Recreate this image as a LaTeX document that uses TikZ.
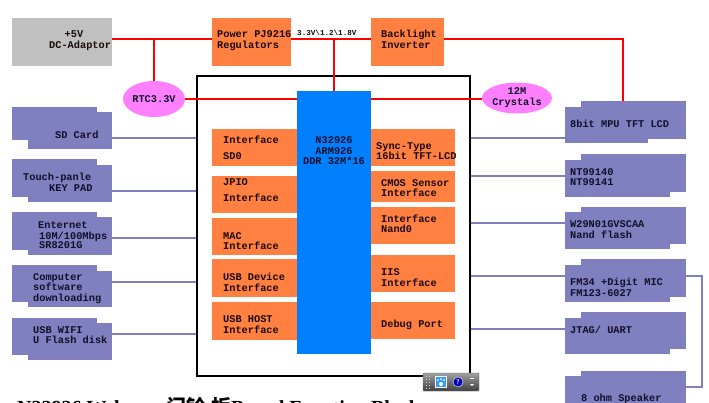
\documentclass[tikz,border=0pt]{standalone}
\usepackage{fontspec}
\setmonofont{Liberation Mono}
\newfontfamily\cjk{Noto Sans CJK SC}
\newfontfamily\capfont{Liberation Serif}
\usetikzlibrary{shapes.geometric,fit}
\definecolor{orng}{HTML}{FF8040}
\definecolor{gry}{HTML}{C0C0C0}
\definecolor{purp}{HTML}{8080C0}
\definecolor{pinkc}{HTML}{FF80FF}
\definecolor{cpublue}{HTML}{0080FF}
\definecolor{txtdark}{HTML}{1A0A0A}
\definecolor{txtnavy}{HTML}{10102A}
\tikzset{
  obox/.style={fill=orng, draw=none, inner sep=0pt},
  gbox/.style={fill=gry, draw=none, inner sep=0pt},
  pbox/.style={fill=purp, draw=none, inner sep=0pt},
  cpubox/.style={fill=cpublue, draw=none, inner sep=0pt},
  ell/.style={ellipse, fill=pinkc, draw=none, inner sep=0pt, align=center,
    font=\ttfamily\bfseries\fontsize{10.3}{11}\selectfont, text=txtnavy},
  t/.style={anchor=base west, inner sep=0pt, font=\ttfamily\bfseries\fontsize{10.3}{11}\selectfont, text=txtdark},
  tc/.style={t, anchor=base},
  pt/.style={t, text=txtnavy},
  redw/.style={draw=red, line width=2pt},
  pw/.style={draw=purp, line width=1.6pt},
}
\begin{document}
\begin{tikzpicture}[x=1pt,y=-1pt]
\useasboundingbox (0,0) rectangle (709,402);
\clip (0,0) rectangle (709,402);
\fill[white] (0,0) rectangle (709,402);

% top row
\node[gbox, fit={(12,18)(112,66)}] (dc) {};
\node[obox, fit={(212,18)(291,66)}] (pwr) {};
\node[obox, fit={(371,18)(444,66)}] (bl) {};
\node[tc] (tdc1) at (74,37.5) {+5V};
\node[t] (tdc2) at (49,48.5) {DC-Adaptor};
\node[t] (tpw1) at (217,37.5) {Power PJ9216};
\node[t] (tpw2) at (217,48.5) {Regulators};
\node[t] (tbl1) at (381,37.5) {Backlight};
\node[t] (tbl2) at (381,48.5) {Inverter};
\node[t, font=\ttfamily\bfseries\fontsize{7.6}{8}\selectfont] (tvolt) at (297,35.5) {3.3V\textbackslash1.2\textbackslash1.8V};

% main frame and CPU
\node[draw=black, line width=2.5pt, inner sep=0pt, fit={(197,76)(470,376)}] (main) {};
\node[cpubox, fit={(297,91)(371,354)}] (cpu) {};
\node[tc, text=txtnavy] (tc1) at (334,143.5) {N32926};
\node[tc, text=txtnavy] (tc2) at (334,154.5) {ARM926};
\node[tc, text=txtnavy] (tc3) at (334,164.5) {DDR 32M*16};

% ellipses
\node[ell, minimum width=62pt, minimum height=36pt] (rtc) at (154,99) {RTC3.3V};
\node[ell, minimum width=62pt, minimum height=31pt] (xtal) at (517,98) {12M\\Crystals};

% left interface blocks
\node[obox, fit={(212,129)(297,166)}] (sd0) {};
\node[obox, fit={(212,176)(297,213)}] (jpio) {};
\node[obox, fit={(212,218)(297,255)}] (mac) {};
\node[obox, fit={(212,259)(297,297)}] (usbd) {};
\node[obox, fit={(212,302)(297,340)}] (usbh) {};
\node[t] (l1a) at (223,143.5) {Interface};
\node[t] (l1b) at (223,159.5) {SD0};
\node[t] (l2a) at (223,185.5) {JPIO};
\node[t] (l2b) at (223,201.5) {Interface};
\node[t] (l3a) at (223,239.5) {MAC};
\node[t] (l3b) at (223,249.5) {Interface};
\node[t] (l4a) at (223,280.5) {USB Device};
\node[t] (l4b) at (223,291.5) {Interface};
\node[t] (l5a) at (223,322.5) {USB HOST};
\node[t] (l5b) at (223,333.5) {Interface};

% right interface blocks
\node[obox, fit={(371,129)(455,166)}] (sync) {};
\node[obox, fit={(371,171)(455,202)}] (cmos) {};
\node[obox, fit={(371,207)(455,244)}] (nand) {};
\node[obox, fit={(371,255)(455,292)}] (iis) {};
\node[obox, fit={(371,302)(455,339)}] (dbg) {};
\node[t] (r1a) at (376,149.5) {Sync-Type};
\node[t] (r1b) at (376,159.5) {16bit TFT-LCD};
\node[t] (r2a) at (381,186.5) {CMOS Sensor};
\node[t] (r2b) at (381,196.5) {Interface};
\node[t] (r3a) at (381,222.5) {Interface};
\node[t] (r3b) at (381,232.5) {Nand0};
\node[t] (r4a) at (381,275.5) {IIS};
\node[t] (r4b) at (381,286.5) {Interface};
\node[t] (r5a) at (381,327.5) {Debug Port};

% left peripheral boxes (front + back)
\node[pbox, fit={(12,107)(97,140)}] (sdf) {};
\node[pbox, fit={(28,112)(112,149)}] (sdb) {};
\node[pbox, fit={(12,159)(97,197)}] (tpf) {};
\node[pbox, fit={(28,165)(112,202)}] (tpb) {};
\node[pbox, fit={(12,212)(97,250)}] (etf) {};
\node[pbox, fit={(28,217)(112,255)}] (etb) {};
\node[pbox, fit={(12,265)(97,302)}] (pcf) {};
\node[pbox, fit={(28,271)(112,307)}] (pcb) {};
\node[pbox, fit={(12,318)(97,355)}] (wff) {};
\node[pbox, fit={(28,323)(112,360)}] (wfb) {};
\node[pt] (p1) at (55,138.5) {SD Card};
\node[pt] (p2a) at (23,180.5) {Touch-panle};
\node[pt] (p2b) at (49,191.5) {KEY PAD};
\node[pt] (p3a) at (38,228.5) {Enternet};
\node[pt] (p3b) at (39,239.5) {10M/100Mbps};
\node[pt] (p3c) at (39,248.5) {SR8201G};
\node[pt] (p4a) at (33,280.5) {Computer};
\node[pt] (p4b) at (33,290.5) {software};
\node[pt] (p4c) at (33,301.5) {downloading};
\node[pt] (p5a) at (33,333.5) {USB WIFI};
\node[pt] (p5b) at (33,343.5) {U Flash disk};

% right peripheral boxes (upper + lower)
\node[pbox, fit={(581,101)(686,139)}] (lcdu) {};
\node[pbox, fit={(565,107)(648,143)}] (lcdl) {};
\node[pbox, fit={(581,154)(686,192)}] (ntu) {};
\node[pbox, fit={(565,160)(670,197)}] (ntl) {};
\node[pbox, fit={(581,207)(686,244)}] (wu) {};
\node[pbox, fit={(565,212)(670,249)}] (wl) {};
\node[pbox, fit={(581,259)(686,297)}] (fmu) {};
\node[pbox, fit={(565,265)(670,302)}] (fml) {};
\node[pbox, fit={(581,312)(686,349)}] (jtu) {};
\node[pbox, fit={(565,318)(670,354)}] (jtl) {};
\node[pbox, fit={(581,371)(686,420)}] (spu) {};
\node[pbox, fit={(565,376)(670,420)}] (spl) {};
\node[pt] (q1) at (570,127.5) {8bit MPU TFT LCD};
\node[pt] (q2a) at (570,175.5) {NT99140};
\node[pt] (q2b) at (570,185.5) {NT99141};
\node[pt] (q3a) at (570,227.5) {W29N01GVSCAA};
\node[pt] (q3b) at (570,238.5) {Nand flash};
\node[pt] (q4a) at (570,285.5) {FM34 +Digit MIC};
\node[pt] (q4b) at (570,296.5) {FM123-6027};
\node[pt] (q5) at (570,333.5) {JTAG/ UART};
\node[pt] (q6) at (581,401) {8 ohm Speaker};

% red power lines
\coordinate (j1) at (154,39);
\coordinate (lcdtap) at (623,101);
\draw[redw] (dc.east|-0,39) -- (pwr.west|-0,39);
\draw[redw] (pwr.east|-0,39) -- (bl.west|-0,39);
\draw[redw] (bl.east|-0,39) -| (lcdtap);
\draw[redw] (j1) -- (rtc.north);
\draw[redw] (cpu.north|-0,39) -- (cpu.north);
\draw[redw] (rtc.east) -- (cpu.west|-rtc.east);
\draw[redw] (cpu.east|-0,99) -- (xtal.west|-0,99);

% purple connection lines left
\draw[pw] (sdb.east|-0,138) -- (main.west|-0,138);
\draw[pw] (tpb.east|-0,191) -- (main.west|-0,191);
\draw[pw] (etb.east|-0,238) -- (main.west|-0,238);
\draw[pw] (pcb.east|-0,282) -- (main.west|-0,282);
\draw[pw] (wfb.east|-0,334) -- (main.west|-0,334);
% right
\draw[pw] (main.east|-0,138) -- (lcdl.west|-0,138);
\draw[pw] (main.east|-0,176) -- (ntl.west|-0,176);
\draw[pw] (main.east|-0,223) -- (wl.west|-0,223);
\draw[pw] (main.east|-0,276) -- (fml.west|-0,276);
\draw[pw] (main.east|-0,329) -- (jtl.west|-0,329);
\coordinate (fmtap) at (702,276);
\draw[pw] (fmu.east|-0,276) -- (fmtap) |- (spu.east|-0,387);

% floating toolbar
\node[inner sep=0pt, top color=gray!75, bottom color=black!75, draw=black!60, rounded corners=1pt, fit={(423,373)(479,391)}] (tb) {};
\foreach \yy in {376,379,382,385,388} {\fill[gray!40] (426,\yy) rectangle +(1,1); \fill[gray!40] (429,\yy) rectangle +(1,1);}
\node[fill=cpublue!80, draw=white, inner sep=0pt, minimum size=11pt] (tbi) at (441,382) {};
\fill[white] (441,384) circle (2pt) (438,380) circle (1pt) (441,379) circle (1pt) (444,380) circle (1pt);
\node[circle, fill=blue!70!black, draw=white, inner sep=0pt, minimum size=10pt, text=white, font=\sffamily\bfseries\fontsize{7}{7}\selectfont] (tbq) at (458,382) {?};
\fill[white] (470,378) rectangle (474,379);
\fill[white] (470,384) -- (474,384) -- (472,386) -- cycle;

% caption (cut off at bottom, as in the source)
\node[anchor=base west, inner sep=0pt, font=\capfont\bfseries\fontsize{20}{22}\selectfont] (cap) at (17,414)
  {N32926 Webcam {\cjk 门铃} {\cjk 板}Board Function Block};
\end{tikzpicture}
\end{document}
